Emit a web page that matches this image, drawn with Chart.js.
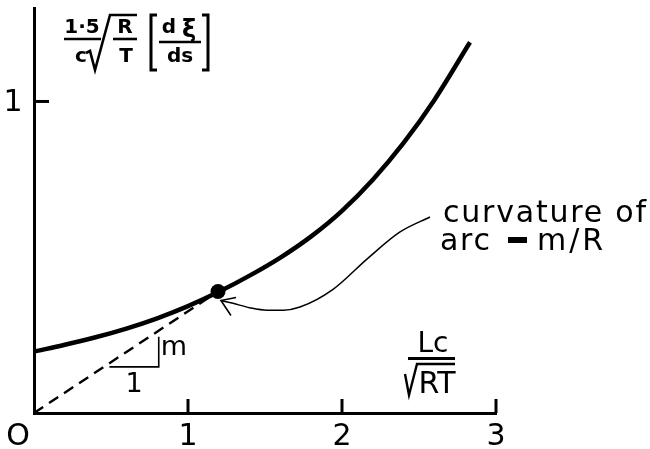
<!DOCTYPE html>
<html>
<head>
<meta charset="utf-8">
<script src="https://cdn.jsdelivr.net/npm/chart.js@4.4.1/dist/chart.umd.min.js"></script>
<style>
html,body{margin:0;padding:0;background:#fff;}
#wrap{width:650px;height:449px;position:relative;}
</style>
</head>
<body>
<div id="wrap"><canvas id="c"></canvas></div>
<script>
// ---- data ----
const curveX = [0, 0.2, 0.4, 0.6, 0.8, 1.0, 1.2, 1.4, 1.6, 1.8, 2.0, 2.2, 2.4, 2.6, 2.831];
const curveY = [0.197, 0.219, 0.243, 0.271, 0.304, 0.343, 0.389, 0.441, 0.499, 0.567, 0.649, 0.749, 0.867, 1.005, 1.190];
const tangentX = [0, 1.195];
const tangentY = [0, 0.390];
const dotX = [1.195];
const dotY = [0.390];
const pointerX = [1.214, 1.292, 1.400, 1.513, 1.620, 1.727, 1.942, 2.162, 2.377, 2.571];
const pointerY = [0.361, 0.352, 0.338, 0.330, 0.330, 0.340, 0.397, 0.494, 0.581, 0.629];
const arrowX = [1.312, 1.214, 1.279];
const arrowY = [0.371, 0.361, 0.313];
const slopeX = [0.49, 0.81, 0.81];
const slopeY = [0.148, 0.148, 0.245];
const xTickValues = [0, 1, 2, 3];
const xTickLabels = ['O', '1', '2', '3'];
const yTickValues = [1];
const yTickLabels = ['1'];

const pts = (xs, ys) => xs.map((x, i) => ({x: x, y: ys[i]}));
const FONT = '"DejaVu Sans", sans-serif';

function spacedText(ctx, text, x, y, width) {
  try { ctx.letterSpacing = '0px'; } catch (e) {}
  const w = ctx.measureText(text).width;
  const sp = (width - w) / (text.length - 1);
  try { ctx.letterSpacing = sp.toFixed(2) + 'px'; } catch (e) {}
  ctx.fillText(text, x, y);
  try { ctx.letterSpacing = '0px'; } catch (e) {}
}

const decor = {
  id: 'decor',
  afterDraw(chart) {
    const ctx = chart.ctx;
    const xs = chart.scales.x, ys = chart.scales.y;
    const x0 = xs.getPixelForValue(0), y0 = ys.getPixelForValue(0);
    ctx.save();
    ctx.strokeStyle = '#000';
    ctx.fillStyle = '#000';
    ctx.lineCap = 'butt';
    // inward tick marks
    ctx.lineWidth = 3;
    xTickValues.forEach(v => {
      if (v === 0) return;
      const px = xs.getPixelForValue(v);
      ctx.beginPath(); ctx.moveTo(px, y0); ctx.lineTo(px, y0 - 14); ctx.stroke();
    });
    yTickValues.forEach(v => {
      const py = ys.getPixelForValue(v);
      ctx.beginPath(); ctx.moveTo(x0, py); ctx.lineTo(x0 + 15, py); ctx.stroke();
    });
    // tick labels
    ctx.textAlign = 'center';
    ctx.textBaseline = 'alphabetic';
    ctx.font = '30px ' + FONT;
    xTickValues.forEach((v, i) => {
      let px = xs.getPixelForValue(v);
      if (v === 0) px -= 16;
      ctx.fillText(xTickLabels[i], px, y0 + 32);
    });
    yTickValues.forEach((v, i) => {
      ctx.fillText(yTickLabels[i], x0 - 21, ys.getPixelForValue(v) + 10);
    });

    // slope triangle labels
    ctx.font = '27px ' + FONT;
    ctx.fillText('m', 174, 355);
    ctx.fillText('1', 134, 392);

    // annotation text
    ctx.textAlign = 'left';
    ctx.font = '30px ' + FONT;
    spacedText(ctx, 'curvature of', 443, 222, 203);
    spacedText(ctx, 'arc', 440, 250, 50);
    ctx.fillRect(508, 237, 19, 6);
    spacedText(ctx, 'm/R', 537, 250, 66);

    // y-axis title: 1·5/c sqrt(R/T) [dξ/ds]
    ctx.textAlign = 'center';
    ctx.textBaseline = 'middle';
    ctx.font = 'bold 20px ' + FONT;
    ctx.fillText('1·5', 82, 28);
    ctx.fillText('c', 81, 57);
    ctx.fillText('R', 125, 28);
    ctx.fillText('T', 126, 57);
    ctx.fillText('d', 169, 28);
    ctx.fillText('ds', 180, 57);
    ctx.font = 'bold 24px ' + FONT;
    ctx.fillText('ξ', 189, 31);
    ctx.lineWidth = 2.6;
    ctx.beginPath(); ctx.moveTo(64, 39); ctx.lineTo(101, 39); ctx.stroke();
    ctx.beginPath(); ctx.moveTo(113, 39); ctx.lineTo(137, 39); ctx.stroke();
    ctx.beginPath(); ctx.moveTo(159, 42); ctx.lineTo(201, 42); ctx.stroke();
    ctx.beginPath();
    ctx.moveTo(86, 53); ctx.lineTo(90, 51); ctx.lineTo(95, 70); ctx.lineTo(110, 15); ctx.lineTo(137, 15);
    ctx.stroke();
    ctx.lineWidth = 3;
    ctx.beginPath(); ctx.moveTo(157, 15); ctx.lineTo(151, 15); ctx.lineTo(151, 70); ctx.lineTo(157, 70); ctx.stroke();
    ctx.beginPath(); ctx.moveTo(202, 15); ctx.lineTo(208, 15); ctx.lineTo(208, 70); ctx.lineTo(202, 70); ctx.stroke();

    // x-axis title: Lc / sqrt(RT)
    ctx.textBaseline = 'alphabetic';
    ctx.font = '28px ' + FONT;
    ctx.fillText('Lc', 433, 352);
    ctx.font = '30px ' + FONT;
    ctx.fillText('RT', 437, 393);
    ctx.lineWidth = 3;
    ctx.beginPath(); ctx.moveTo(408, 358.5); ctx.lineTo(455, 358.5); ctx.stroke();
    ctx.lineWidth = 2.4;
    ctx.beginPath();
    ctx.moveTo(405, 374); ctx.lineTo(409, 395); ctx.lineTo(417, 364); ctx.lineTo(455, 364);
    ctx.stroke();
    ctx.restore();
  }
};

new Chart(document.getElementById('c'), {
  type: 'scatter',
  data: {
    datasets: [
      { data: pts(curveX, curveY), showLine: true, borderColor: '#000', borderWidth: 4.5,
        cubicInterpolationMode: 'monotone', pointRadius: 0 },
      { data: pts(tangentX, tangentY), showLine: true, borderColor: '#000', borderWidth: 2.4,
        borderDash: [11, 7], pointRadius: 0 },
      { data: pts(pointerX, pointerY), showLine: true, borderColor: '#000', borderWidth: 1.5,
        cubicInterpolationMode: 'monotone', pointRadius: 0 },
      { data: pts(arrowX, arrowY), showLine: true, borderColor: '#000', borderWidth: 1.6,
        pointRadius: 0 },
      { data: pts(slopeX, slopeY), showLine: true, borderColor: '#000', borderWidth: 1.6,
        pointRadius: 0 },
      { data: pts(dotX, dotY), showLine: false, pointRadius: 7.5, pointBackgroundColor: '#000',
        pointBorderColor: '#000', pointBorderWidth: 0 }
    ]
  },
  options: {
    responsive: true,
    maintainAspectRatio: false,
    animation: false,
    events: [],
    layout: { padding: { left: 34, right: 154, top: 8, bottom: 36 } },
    plugins: { legend: { display: false }, tooltip: { enabled: false } },
    scales: {
      x: { type: 'linear', min: 0, max: 3,
           grid: { display: false, drawTicks: false },
           border: { display: true, color: '#000', width: 3 },
           ticks: { display: false },
           afterFit(s) { s.height = 0; } },
      y: { type: 'linear', min: 0, max: 1.3,
           grid: { display: false, drawTicks: false },
           border: { display: true, color: '#000', width: 3 },
           ticks: { display: false },
           afterFit(s) { s.width = 0; } }
    }
  },
  plugins: [decor]
});
</script>
</body>
</html>
